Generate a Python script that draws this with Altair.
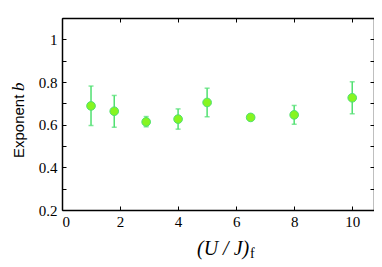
import altair as alt
import pandas as pd

# data
u_over_j = [1.0, 1.8, 2.9, 4.0, 5.0, 6.5, 8.0, 10.0]
exponent_b = [0.688, 0.663, 0.613, 0.626, 0.704, 0.634, 0.646, 0.726]
err_low = [0.596, 0.588, 0.590, 0.579, 0.637, None, 0.602, 0.651]
err_high = [0.781, 0.737, 0.638, 0.674, 0.771, None, 0.690, 0.801]

x_ticks = [0, 2, 4, 6, 8, 10]
y_ticks = [0.2, 0.3, 0.4, 0.5, 0.6, 0.7, 0.8, 0.9, 1.0, 1.1]

df = pd.DataFrame({"x": u_over_j, "y": exponent_b, "lo": err_low, "hi": err_high})
df_err = df.dropna()

W, H = 312, 192
XD = [0, 10.75]
YD = [0.2, 1.1]
FONT = "Liberation Serif"
ERR_COLOR = "#4fe070"

xs = alt.Scale(domain=XD, nice=False, zero=False)
ys = alt.Scale(domain=YD, nice=False, zero=False)

label_axis_x = alt.Axis(values=x_ticks, format="d", ticks=False, domain=True, domainColor="black",
                        domainWidth=1.5, grid=False,
                        labelFont=FONT, labelFontSize=15, labelColor="black", labelPadding=4,
                        title=None)
label_axis_y = alt.Axis(values=y_ticks, format=".1~f", ticks=False, domain=True, domainColor="black",
                        domainWidth=1.5, grid=False,
                        labelFont=FONT, labelFontSize=15, labelColor="black", labelPadding=5,
                        labelExpr="round(datum.value*10) % 2 == 0 ? datum.label : ''",
                        title=None)

base = alt.Chart(df)

err_rule = alt.Chart(df_err).mark_rule(color=ERR_COLOR, strokeWidth=1.5).encode(
    x=alt.X("x:Q", scale=xs, axis=label_axis_x),
    y=alt.Y("lo:Q", scale=ys, axis=label_axis_y),
    y2="hi:Q",
)
cap_lo = alt.Chart(df_err).mark_tick(color=ERR_COLOR, thickness=1.5, size=5, orient="horizontal").encode(
    x=alt.X("x:Q", scale=xs), y=alt.Y("lo:Q", scale=ys))
cap_hi = alt.Chart(df_err).mark_tick(color=ERR_COLOR, thickness=1.5, size=5, orient="horizontal").encode(
    x=alt.X("x:Q", scale=xs), y=alt.Y("hi:Q", scale=ys))
points = base.mark_point(filled=True, size=75, fill="#86f520", stroke="#4fe070",
                         strokeWidth=1, opacity=1).encode(
    x=alt.X("x:Q", scale=xs), y=alt.Y("y:Q", scale=ys))

data_layer = alt.layer(err_rule, cap_lo, cap_hi, points)


def tick_layer(xorient, yorient, domain):
    xa = alt.Axis(orient=xorient, values=x_ticks, labels=False, domain=domain, domainColor="black",
                  domainWidth=1.5, grid=False,
                  tickSize=4, tickColor="black", tickWidth=1, offset=-H, title=None)
    ya = alt.Axis(orient=yorient, values=y_ticks, labels=False, domain=domain, domainColor="black",
                  domainWidth=1.5, grid=False,
                  tickSize=4, tickColor="black", tickWidth=1, offset=-W, title=None)
    return base.mark_point(opacity=0).encode(
        x=alt.X("x:Q", scale=xs, axis=xa), y=alt.Y("y:Q", scale=ys, axis=ya))


t1 = tick_layer("top", "right", False)    # moved to bottom/left edges -> ticks point inward
t2 = tick_layer("bottom", "left", True)   # moved to top/right edges -> ticks point inward, draws frame

ylab1 = alt.Chart(pd.DataFrame({"t": ["Exponent"]})).mark_text(
    font="Liberation Sans", fontSize=15, angle=270, align="left", baseline="alphabetic",
    color="black").encode(x=alt.value(-38), y=alt.value(140), text="t:N")
ylab2 = alt.Chart(pd.DataFrame({"t": ["b"]})).mark_text(
    font=FONT, fontSize=17, fontStyle="italic", angle=270, align="left", baseline="alphabetic",
    color="black").encode(x=alt.value(-38), y=alt.value(73), text="t:N")
xlab1 = alt.Chart(pd.DataFrame({"t": ["(U / J)"]})).mark_text(
    font=FONT, fontSize=20, fontStyle="italic", align="left", baseline="alphabetic",
    color="black").encode(x=alt.value(135), y=alt.value(237), text="t:N")
xlab2 = alt.Chart(pd.DataFrame({"t": ["f"]})).mark_text(
    font=FONT, fontSize=14, align="left", baseline="alphabetic",
    color="black").encode(x=alt.value(188), y=alt.value(240), text="t:N")

chart = alt.layer(data_layer, t1, t2, ylab1, ylab2, xlab1, xlab2).resolve_scale(
    x="independent", y="independent"
).properties(
    width=W, height=H,
    autosize=alt.AutoSizeParams(type="none"),
    padding={"left": 54, "top": 10, "right": 0, "bottom": 57},
).configure_view(stroke=None).configure(background="white")

chart.save("out.html", embed_options={"renderer": "svg", "actions": False})
